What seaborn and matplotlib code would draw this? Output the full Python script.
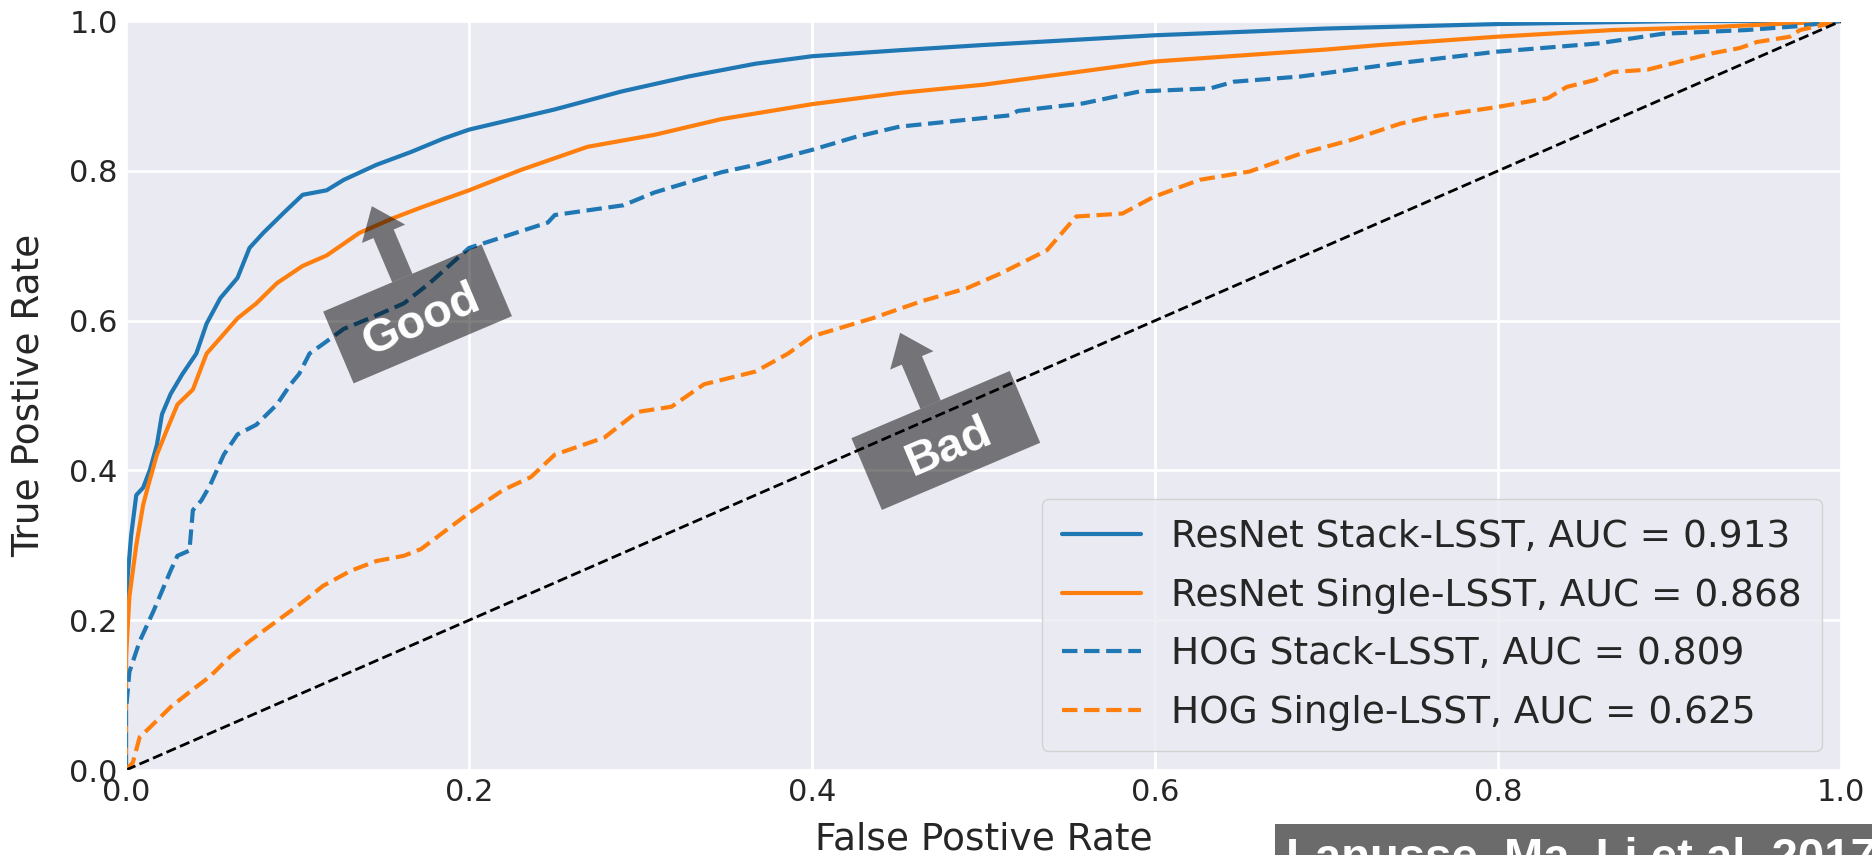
import matplotlib
matplotlib.use("Agg")
import matplotlib.pyplot as plt
import seaborn as sns
from matplotlib.patches import Rectangle, FancyArrow
from matplotlib.transforms import Affine2D, ScaledTranslation

# ROC curves
resnet_stack_fpr = [0, 0, 0.001, 0.003, 0.006, 0.010, 0.014, 0.018, 0.021, 0.026, 0.033, 0.041,
                    0.047, 0.055, 0.065, 0.072, 0.080, 0.092, 0.103, 0.117, 0.127, 0.146, 0.166,
                    0.185, 0.200, 0.250, 0.289, 0.328, 0.367, 0.400, 0.451, 0.500, 0.600, 0.700,
                    0.800, 0.906, 1.0]
resnet_stack_tpr = [0, 0.185, 0.259, 0.313, 0.367, 0.377, 0.401, 0.434, 0.475, 0.502, 0.529, 0.556,
                    0.596, 0.630, 0.657, 0.697, 0.717, 0.744, 0.768, 0.774, 0.788, 0.808, 0.825,
                    0.843, 0.855, 0.882, 0.906, 0.926, 0.943, 0.953, 0.961, 0.968, 0.981, 0.990,
                    0.996, 1.0, 1.0]

resnet_single_fpr = [0, 0, 0.002, 0.006, 0.010, 0.013, 0.018, 0.024, 0.030, 0.039, 0.047, 0.057,
                     0.065, 0.076, 0.088, 0.103, 0.117, 0.136, 0.156, 0.172, 0.200, 0.230, 0.269,
                     0.308, 0.347, 0.400, 0.451, 0.500, 0.600, 0.700, 0.731, 0.799, 0.867, 0.925, 1.0]
resnet_single_tpr = [0, 0.150, 0.232, 0.300, 0.354, 0.380, 0.421, 0.455, 0.488, 0.508, 0.556, 0.582,
                     0.603, 0.623, 0.650, 0.673, 0.687, 0.717, 0.737, 0.751, 0.774, 0.801, 0.832,
                     0.848, 0.869, 0.889, 0.904, 0.915, 0.946, 0.962, 0.968, 0.979, 0.988, 0.992, 1.0]

hog_stack_fpr = [0, 0, 0.002, 0.008, 0.016, 0.026, 0.030, 0.037, 0.039, 0.044, 0.049, 0.057, 0.065,
                 0.076, 0.088, 0.096, 0.101, 0.107, 0.115, 0.127, 0.142, 0.162, 0.177, 0.200, 0.246,
                 0.250, 0.290, 0.308, 0.347, 0.367, 0.400, 0.425, 0.451, 0.515, 0.520, 0.558, 0.591,
                 0.632, 0.646, 0.685, 0.743, 0.799, 0.858, 0.896, 0.945, 0.974, 1.0]
hog_stack_tpr = [0, 0.080, 0.131, 0.172, 0.212, 0.266, 0.286, 0.293, 0.347, 0.360, 0.380, 0.421, 0.448,
                 0.461, 0.488, 0.515, 0.529, 0.556, 0.569, 0.589, 0.603, 0.623, 0.650, 0.697, 0.731,
                 0.741, 0.754, 0.771, 0.798, 0.808, 0.828, 0.845, 0.859, 0.874, 0.880, 0.890, 0.906,
                 0.910, 0.919, 0.926, 0.944, 0.959, 0.970, 0.983, 0.988, 0.993, 1.0]

hog_single_fpr = [0, 0.004, 0.008, 0.014, 0.026, 0.037, 0.049, 0.061, 0.072, 0.088, 0.100, 0.115,
                  0.131, 0.146, 0.162, 0.172, 0.200, 0.220, 0.236, 0.250, 0.279, 0.298, 0.318, 0.337,
                  0.367, 0.386, 0.400, 0.435, 0.464, 0.490, 0.510, 0.537, 0.554, 0.581, 0.599, 0.626,
                  0.655, 0.685, 0.714, 0.743, 0.760, 0.799, 0.829, 0.840, 0.856, 0.867, 0.887, 0.925,
                  0.941, 0.951, 0.970, 0.976, 1.0]
hog_single_tpr = [0, 0.010, 0.044, 0.057, 0.084, 0.104, 0.125, 0.152, 0.172, 0.199, 0.219, 0.246,
                  0.266, 0.279, 0.286, 0.295, 0.343, 0.374, 0.391, 0.421, 0.444, 0.478, 0.485, 0.515,
                  0.532, 0.556, 0.579, 0.603, 0.626, 0.643, 0.663, 0.694, 0.739, 0.743, 0.765, 0.788,
                  0.799, 0.823, 0.841, 0.863, 0.872, 0.885, 0.897, 0.912, 0.921, 0.932, 0.935, 0.957,
                  0.964, 0.972, 0.979, 0.988, 1.0]

labels = ["ResNet Stack-LSST, AUC = 0.913", "ResNet Single-LSST, AUC = 0.868",
          "HOG Stack-LSST, AUC = 0.809", "HOG Single-LSST, AUC = 0.625"]
chance = [0, 1]

sns.set_style("darkgrid", {"axes.facecolor": "#EAEAF2", "grid.color": "white"})
plt.rcParams["font.family"] = ["DejaVu Sans"]
plt.rcParams["grid.linewidth"] = 2

blue, orange = sns.color_palette("tab10")[:2]

fig = plt.figure(figsize=(18.72, 8.55), dpi=100)
ax = fig.add_axes([0.0673, 0.0994, 0.9162, 0.876])

curves = [(resnet_stack_fpr, resnet_stack_tpr, blue, "-"),
          (resnet_single_fpr, resnet_single_tpr, orange, "-"),
          (hog_stack_fpr, hog_stack_tpr, blue, "--"),
          (hog_single_fpr, hog_single_tpr, orange, "--")]
for (fpr, tpr, col, ls), lab in zip(curves, labels):
    sns.lineplot(x=fpr, y=tpr, ax=ax, color=col, linestyle=ls, linewidth=3,
                 estimator=None, sort=False, label=lab)
ax.plot(chance, chance, "k--", linewidth=2)

ax.set_xlim(0, 1)
ax.set_ylim(0, 1)
ax.set_xticks([0, 0.2, 0.4, 0.6, 0.8, 1.0])
ax.set_yticks([0, 0.2, 0.4, 0.6, 0.8, 1.0])
ax.tick_params(labelsize=22, length=0, pad=6)
ax.set_xlabel("False Postive Rate", fontsize=27, labelpad=10)
ax.set_ylabel("True Postive Rate", fontsize=27, labelpad=16)
ax.legend(loc="lower right", fontsize=27, handlelength=2.1, labelspacing=0.6,
          borderpad=0.55, borderaxespad=0.5, handletextpad=0.8)


def local_frame(cx, cy, angle):
    # pixel-sized frame, rotated, anchored at a data point
    return Affine2D().rotate_deg(angle) + ScaledTranslation(cx, cy, ax.transData)


for cx, cy, word in [(0.170, 0.609, "Good"), (0.478, 0.440, "Bad")]:
    tr = local_frame(cx, cy, 23)
    ax.add_patch(Rectangle((-86, -39), 172, 78, transform=tr, facecolor="black",
                           alpha=0.5, linewidth=0, zorder=5))
    ax.add_patch(FancyArrow(0, 39, 0, 78, width=22, head_width=47, head_length=30,
                            length_includes_head=True, transform=tr, facecolor="black",
                            alpha=0.5, linewidth=0, zorder=5))
    ax.text(0, -8, word, transform=tr, rotation=23, rotation_mode="anchor",
            ha="center", va="center", color="white", fontsize=34, fontweight="bold",
            family="Liberation Sans", zorder=6)

fig.add_artist(Rectangle((1275 / 1872, 0), 1, 31 / 855, transform=fig.transFigure,
                         facecolor="#6b6b6b", linewidth=0))
fig.text(1286 / 1872, -16 / 855, "Lanusse, Ma, Li et al. 2017", ha="left", va="baseline",
         fontsize=34, color="white", fontweight="bold", family="Liberation Sans")

fig.savefig("out.png", dpi=100)
